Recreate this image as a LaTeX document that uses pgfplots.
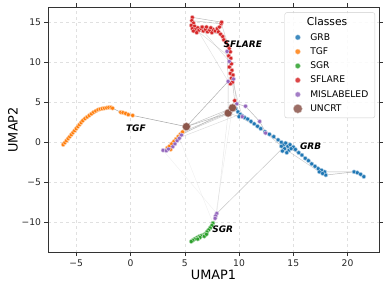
\documentclass[border=0pt]{standalone}
\usepackage{fontspec}
\setmainfont{DejaVu Sans}
\usepackage{pgfplots}
\pgfplotsset{compat=1.18}
\definecolor{cGRB}{HTML}{1F77B4}
\definecolor{cTGF}{HTML}{FF7F0E}
\definecolor{cSGR}{HTML}{2CA02C}
\definecolor{cSFL}{HTML}{D62728}
\definecolor{cMIS}{HTML}{9467BD}
\definecolor{cUNC}{HTML}{8C564B}
\pgfplotsset{
  pts/.style={only marks, mark=*, mark size=2bp, forget plot,
    mark options={fill=#1, draw=#1!35, line width=0.5pt}},
  edge/.style={black!45, opacity=#1, line width=0.5pt, forget plot, no marks},
}
\begin{document}
\begin{tikzpicture}
\begin{axis}[
  name=ax, set layers,
  scale only axis, width=331bp, height=245.7bp,
  xmin=-7.6, xmax=22.9, ymin=-13.8, ymax=16.9,
  xtick={-5,0,5,10,15,20}, xticklabels={−5,0,5,10,15,20},
  ytick={-10,-5,0,5,10,15}, yticklabels={−10,−5,0,5,10,15},
  tick label style={font=\fontsize{9.2}{11}\selectfont, text=black!85},
  xlabel={UMAP1}, ylabel={UMAP2},
  every axis x label/.style={at={(axis description cs:0.5,-0.091)}, anchor=center, font=\fontsize{12.9}{15}\selectfont},
  every axis y label/.style={at={(axis description cs:-0.106,0.5)}, rotate=90, anchor=center, font=\fontsize{12.9}{15}\selectfont},
  grid=major, major grid style={dashed, black!12, line width=0.4pt},
  tick align=outside, major tick length=3.5bp, tick style={black!80},
  axis line style={black!80, line width=0.8pt},
  legend cell align=left,
  legend style={at={(rel axis cs:0.988,0.978)}, anchor=north east,
    draw=black!20, rounded corners=2pt, fill=white, fill opacity=0.85, text opacity=1,
    font=\fontsize{9.2}{11}\selectfont, row sep=2.0pt, inner xsep=4.5bp, inner ysep=3pt},
]
% ---- edges ----
\addplot[edge=0.8] coordinates {(-6.2,-0.3) (-5.6,0.7) (-5.0,1.7) (-4.4,2.7) (-3.8,3.35) (-3.2,3.9) (-2.6,4.2) (-1.8,4.35) (-0.9,3.75) (-0.2,3.45) (0.2,3.35) (5.15,1.95)};
\addplot[edge=0.6] coordinates {(5.15,1.95) (9.0,3.65)};
\addplot[edge=0.5] coordinates {(4.8,1.3) (9.0,3.65)};
\addplot[edge=0.5] coordinates {(5.15,1.95) (9.4,4.3)};
\addplot[edge=0.4] coordinates {(4.6,1.0) (9.8,4.0)};
\addplot[edge=0.4] coordinates {(4.4,0.7) (9.4,4.3)};
\addplot[edge=0.3] coordinates {(4.2,0.4) (10.1,3.5)};
\addplot[edge=0.7] coordinates {(5.15,1.95) (9.0,7.6)};
\addplot[edge=0.3] coordinates {(3.0,-1.0) (3.6,-0.5) (4.2,0.4) (4.8,1.3) (5.15,1.95)};
\addplot[edge=0.5] coordinates {(7.95,-8.9) (14.2,-0.5)};
\addplot[edge=0.2] coordinates {(7.95,-8.9) (9.0,3.65)};
\addplot[edge=0.15] coordinates {(7.8,-9.5) (9.4,4.3)};
\addplot[edge=0.12] coordinates {(7.95,-8.9) (3.0,-1.0)};
\addplot[edge=0.12] coordinates {(7.6,-10.1) (4.5,0.5)};
\addplot[edge=0.5] coordinates {(7.95,-8.9) (7.6,-10.1) (7.0,-11.2) (6.5,-11.7) (5.6,-12.4)};
% GRB chain
\addplot[edge=0.6] coordinates {(9.4,4.3) (10.3,3.3) (11.4,2.3) (12.8,1.0) (14.1,-0.3) (15.5,-1.3) (17.0,-3.0) (18.0,-4.1) (20.6,-3.7) (21.5,-4.3)};
\addplot[edge=0.6] coordinates {(9.8,4.8) (10.6,4.5) (11.9,2.6) (12.5,1.15) (14.5,-0.5) (16.4,-2.3) (17.9,-3.7) (20.6,-3.7)};
\addplot[edge=0.4] coordinates {(9.0,3.65) (10.0,3.2) (12.0,1.7) (14.2,-0.8) (17.4,-3.7)};
% SFLARE
\addplot[edge=0.6] coordinates {(5.7,15.6) (8.4,15.0)};
\addplot[edge=0.5] coordinates {(5.65,15.2) (8.35,14.8)};
\addplot[edge=0.5] coordinates {(5.8,13.9) (7.5,13.7) (8.3,13.5) (8.8,12.5) (9.0,12.0)};
\addplot[edge=0.4] coordinates {(8.4,14.7) (9.2,11.3)};
\addplot[edge=0.3] coordinates {(6.0,14.1) (9.0,10.8)};
\addplot[edge=0.3] coordinates {(6.5,14.2) (9.3,9.8)};
\addplot[edge=0.25] coordinates {(5.8,14.9) (9.0,7.6)};
\addplot[edge=0.5] coordinates {(9.0,12.0) (9.2,11.3) (9.05,10.8) (9.3,9.8) (9.35,9.0) (9.3,8.0) (9.4,7.5) (9.6,5.2) (9.4,4.3)};
\addplot[edge=0.5] coordinates {(8.9,11.35) (9.0,7.6) (9.0,3.65)};
\addplot[edge=0.4] coordinates {(9.1,10.1) (9.5,7.9) (9.8,4.8)};
\addplot[edge=0.35] coordinates {(9.2,8.6) (10.3,3.2)};
% ---- points ----
\addplot[pts=cTGF] coordinates {(-6.2,-0.3) (-6.05,-0.05) (-5.9,0.2) (-5.75,0.45) (-5.6,0.7) (-5.45,0.95) (-5.3,1.2) (-5.15,1.45) (-5.0,1.7) (-4.85,1.95) (-4.7,2.2) (-4.55,2.45) (-4.4,2.7) (-4.2,2.95) (-4.0,3.15) (-3.8,3.35) (-3.6,3.55) (-3.4,3.75) (-3.2,3.9) (-3.0,4.05) (-2.8,4.15) (-2.6,4.2) (-2.4,4.25) (-2.2,4.3) (-2.0,4.35) (-1.8,4.35) (-1.65,4.25) (-0.9,3.75) (-0.7,3.7) (-0.45,3.6) (-0.2,3.45) (0.2,3.35) (3.4,-0.7) (3.6,-0.5) (3.8,-0.2) (4.0,0.1) (4.2,0.4) (4.4,0.7) (4.6,1.0) (4.8,1.3) (3.7,-0.9)};
\addplot[pts=cSGR] coordinates {(7.6,-10.1) (7.5,-10.4) (7.35,-10.7) (7.2,-10.95) (7.05,-11.2) (6.9,-11.45) (6.7,-11.6) (6.5,-11.7) (6.3,-11.8) (6.1,-11.95) (5.9,-12.1) (5.75,-12.25) (5.6,-12.4) (6.4,-11.9) (6.8,-11.75) (7.0,-11.5) (6.2,-12.1)};
\addplot[pts=cGRB] coordinates {(9.7,4.2) (9.9,3.8) (10.1,3.5) (10.3,3.3) (10.0,3.2) (10.5,3.1) (10.8,2.9) (11.1,2.6) (11.4,2.3) (11.7,2.0) (12.0,1.7) (12.4,1.3) (12.8,1.0) (13.2,0.7) (13.6,0.3) (13.9,0.0) (14.1,-0.3) (14.3,-0.1) (14.5,-0.5) (14.2,-0.8) (14.7,-0.3) (15.0,-0.6) (14.6,-1.0) (15.2,-0.9) (13.9,-0.5) (14.8,-0.8) (14.0,-1.1) (14.4,-1.3) (15.5,-1.3) (15.8,-1.6) (16.1,-2.0) (16.4,-2.3) (16.7,-2.7) (17.0,-3.0) (17.3,-3.3) (17.6,-3.5) (17.4,-3.7) (17.9,-3.7) (18.0,-4.1) (17.7,-3.9) (20.6,-3.7) (20.9,-3.8) (21.2,-4.0) (21.5,-4.3)};
\addplot[pts=cSFL] coordinates {(5.7,15.6) (5.65,15.2) (5.8,14.9) (5.6,14.6) (5.9,14.5) (5.7,14.2) (6.0,14.1) (5.8,13.9) (6.2,14.3) (6.3,14.0) (6.5,14.2) (6.7,13.9) (6.9,14.1) (7.1,13.8) (7.3,14.0) (7.5,13.7) (7.6,14.1) (7.8,13.9) (8.0,14.2) (8.2,14.4) (8.35,14.8) (8.4,15.0) (8.1,13.8) (8.3,13.5) (6.1,13.7) (6.6,14.4) (7.0,14.4) (7.4,14.3) (8.5,13.2) (8.6,12.8) (8.8,12.5) (9.0,12.0) (9.1,11.7) (9.2,11.3) (9.05,10.8) (9.25,10.5) (9.3,9.8) (9.1,9.4) (9.35,9.0) (9.2,8.6) (9.45,8.4) (9.3,8.0) (9.4,7.5) (9.2,7.3) (9.6,5.2)};
\addplot[pts=cMIS] coordinates {(3.0,-1.0) (3.3,-1.05) (3.5,-0.85) (3.9,-0.55) (4.1,-0.2) (4.3,0.2) (4.5,0.5) (4.7,0.9) (8.9,11.35) (9.1,10.1) (9.0,7.6) (9.5,7.9) (9.8,4.8) (10.6,4.5) (10.3,3.2) (11.9,2.6) (12.45,1.15) (7.95,-8.9) (7.85,-9.2) (7.8,-9.5)};
\addplot[only marks, mark=*, mark size=4bp, forget plot, mark options={fill=cUNC, draw=cUNC!40, line width=0.5pt}] coordinates {(5.15,1.95) (9.0,3.65) (9.4,4.3)};
% ---- labels ----
\begin{pgfonlayer}{axis foreground}
\node[font=\fontsize{9}{11}\selectfont\bfseries\itshape] at (axis cs:0.5,1.7) {TGF};
\node[font=\fontsize{9}{11}\selectfont\bfseries\itshape] at (axis cs:10.35,12.3) {SFLARE};
\node[font=\fontsize{9}{11}\selectfont\bfseries\itshape] at (axis cs:16.6,-0.55) {GRB};
\node[font=\fontsize{9}{11}\selectfont\bfseries\itshape] at (axis cs:8.5,-10.9) {SGR};
\end{pgfonlayer}
% ---- legend ----
\addlegendimage{empty legend}
\addlegendentry{\hspace{2.5bp}\fontsize{10.8}{13}\selectfont Classes}
\addlegendimage{only marks, mark=*, mark size=2.6bp, mark options={fill=cGRB, draw=cGRB!35}}
\addlegendentry{\hspace{6bp}GRB}
\addlegendimage{only marks, mark=*, mark size=2.6bp, mark options={fill=cTGF, draw=cTGF!35}}
\addlegendentry{\hspace{6bp}TGF}
\addlegendimage{only marks, mark=*, mark size=2.6bp, mark options={fill=cSGR, draw=cSGR!35}}
\addlegendentry{\hspace{6bp}SGR}
\addlegendimage{only marks, mark=*, mark size=2.6bp, mark options={fill=cSFL, draw=cSFL!35}}
\addlegendentry{\hspace{6bp}SFLARE}
\addlegendimage{only marks, mark=*, mark size=2.6bp, mark options={fill=cMIS, draw=cMIS!35}}
\addlegendentry{\hspace{6bp}MISLABELED}
\addlegendimage{only marks, mark=*, mark size=4.5bp, mark options={fill=cUNC, draw=cUNC!35}}
\addlegendentry{\hspace{6bp}UNCRT}
\end{axis}
\pgfresetboundingbox
\path[use as bounding box] ([shift={(-48bp,-37.3bp)}]ax.south west) rectangle ([shift={(8bp,7bp)}]ax.north east);
\end{tikzpicture}
\end{document}
